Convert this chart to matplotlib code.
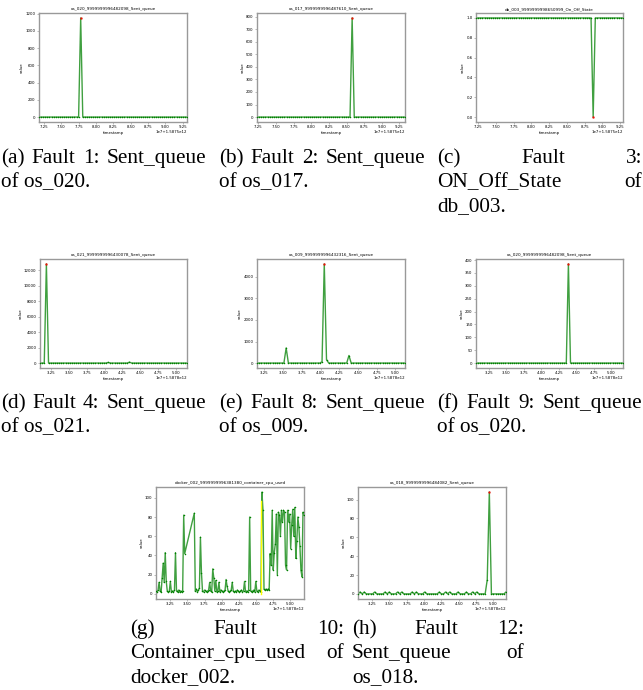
import numpy as np
import matplotlib
matplotlib.use("Agg")
import matplotlib.pyplot as plt
from matplotlib.ticker import MultipleLocator, FormatStrFormatter

# --- Data: values (x in units of 1e7 ms after the offset) ---
STEP = 0.03

a_start = 7.18
a_vals = [0, 0, 0, 0, 0, 0, 0, 0, 0, 0, 0, 0, 0, 0, 0, 0, 0, 0,
          0, 0, 1150, 0, 0, 0, 0, 0, 0, 0, 0, 0, 0, 0, 0, 0, 0, 0,
          0, 0, 0, 0, 0, 0, 0, 0, 0, 0, 0, 0, 0, 0, 0, 0, 0, 0,
          0, 0, 0, 0, 0, 0, 0, 0, 0, 0, 0, 0, 0, 0, 0, 0, 0, 0]

b_start = 7.23
b_vals = [0, 0, 0, 0, 0, 0, 0, 0, 0, 0, 0, 0, 0, 0, 0, 0, 0, 0,
          0, 0, 0, 0, 0, 0, 0, 0, 0, 0, 0, 0, 0, 0, 0, 0, 0, 0,
          0, 0, 0, 0, 0, 0, 0, 0, 0, 790, 0, 0, 0, 0, 0, 0, 0, 0,
          0, 0, 0, 0, 0, 0, 0, 0, 0, 0, 0, 0, 0, 0, 0, 0, 0]

c_start = 7.22
c_vals = [1, 1, 1, 1, 1, 1, 1, 1, 1, 1, 1, 1, 1, 1, 1, 1, 1, 1,
          1, 1, 1, 1, 1, 1, 1, 1, 1, 1, 1, 1, 1, 1, 1, 1, 1, 1,
          1, 1, 1, 1, 1, 1, 1, 1, 1, 1, 1, 1, 1, 1, 1, 1, 1, 1,
          1, 0, 1, 1, 1, 1, 1, 1, 1, 1, 1, 1, 1, 1, 1, 1]

d_start = 3.09
d_vals = [0, 0, 0, 12800, 0, 0, 0, 0, 0, 0, 0, 0, 0, 0, 0, 0, 0, 0,
          0, 0, 0, 0, 0, 0, 0, 0, 0, 0, 0, 0, 0, 0, 80, 0, 0, 0,
          0, 0, 0, 0, 0, 0, 120, 0, 0, 0, 0, 0, 0, 0, 0, 0, 0, 0,
          0, 0, 0, 0, 0, 0, 0, 0, 0, 0, 0, 0, 0, 0, 0, 0]

e_start = 3.15
e_vals = [0, 0, 0, 0, 0, 0, 0, 0, 0, 0, 0, 0, 0, 700, 0, 0, 0, 0,
          0, 0, 0, 0, 0, 0, 0, 0, 0, 0, 0, 60, 4600, 150, 0, 0, 0, 0,
          0, 0, 0, 0, 0, 350, 0, 0, 0, 0, 0, 0, 0, 0, 0, 0, 0, 0,
          0, 0, 0, 0, 0, 0, 0, 0, 0, 0, 0, 0, 0]

f_start = 3.07
f_vals = [0, 0, 0, 0, 0, 0, 0, 0, 0, 0, 0, 0, 0, 0, 0, 0, 0, 0,
          0, 0, 0, 0, 0, 0, 0, 0, 0, 0, 0, 0, 0, 0, 0, 0, 0, 0,
          0, 0, 0, 0, 0, 0, 0, 0, 385, 0, 0, 0, 0, 0, 0, 0, 0, 0,
          0, 0, 0, 0, 0, 0, 0, 0, 0, 0, 0, 0, 0, 0, 0, 0, 0]

# docker cpu: two sampled stretches with a gap between them
G_STEP = 0.015
g1_start = 3.04
g1_vals = [3, 2, 4, 12, 3, 2, 17, 32, 12, 43, 13, 3, 2, 3, 13, 2, 3, 2,
           4, 43, 3, 2, 4, 2, 3, 2, 3, 82, 42]
g2_start = 3.60
g2_vals = [84, 3, 5, 2, 4, 6, 59, 22, 3, 2, 4, 3, 2, 3, 4, 12, 3, 2,
           26, 17, 3, 14, 2, 3, 12, 2, 4, 3, 2, 3, 4, 15, 8, 3, 2, 3,
           4, 12, 3, 2, 3, 2, 4, 3, 2, 3, 4, 2, 3, 13, 2, 3, 2, 4,
           80, 3, 2, 3, 4, 2, 13, 3, 2, 4, 3, 2, 106, 87, 5, 4, 5, 4,
           5, 4, 42, 30, 87, 25, 43, 52, 83, 20, 85, 82, 60, 87, 75, 87,
           85, 30, 25, 87, 75, 83, 47, 72, 88, 60, 90, 37, 55, 80, 70, 50,
           25, 18, 85, 82]
g_fault_x = [4.578, 4.578]
g_fault_y = [0, 97]

h_start = 3.05
h_vals = [0, 2, 0, 2, 0, 0, 0, 0, 2, 0, 0, 0, 0, 2, 0, 2, 0, 0,
          0, 2, 0, 2, 0, 0, 0, 0, 2, 0, 2, 0, 0, 0, 2, 0, 0, 0,
          0, 0, 0, 2, 0, 0, 2, 0, 2, 0, 0, 0, 2, 0, 0, 0, 2, 0,
          0, 2, 0, 2, 0, 0, 0, 0, 15, 108, 0, 0, 0, 0, 0, 0, 0, 2]

titles = ["os_020_9999999996482098_Sent_queue",
          "os_017_9999999996487610_Sent_queue",
          "db_003_9999999998650999_On_Off_State",
          "os_021_9999999996430078_Sent_queue",
          "os_009_9999999996432316_Sent_queue",
          "os_020_9999999996482098_Sent_queue",
          "docker_002_9999999996381380_container_cpu_used",
          "os_018_9999999996484082_Sent_queue"]
offsets = ["1e7+1.5875e12"] * 3 + ["1e7+1.5878e12"] * 5

captions = [["(a) Fault 1: Sent_queue", "of os_020."],
            ["(b) Fault 2: Sent_queue", "of os_017."],
            ["(c) Fault 3:", "ON_Off_State of", "db_003."],
            ["(d) Fault 4: Sent_queue", "of os_021."],
            ["(e) Fault 8: Sent_queue", "of os_009."],
            ["(f) Fault 9: Sent_queue", "of os_020."],
            ["(g) Fault 10:", "Container_cpu_used of", "docker_002."],
            ["(h) Fault 12:", "Sent_queue of", "os_018."]]

W, H = 643, 690
fig = plt.figure(figsize=(W / 100, H / 100), dpi=100)


def px_axes(l, t, r, b):
    return fig.add_axes([l / W, 1 - b / H, (r - l) / W, (b - t) / H])


def series(start, step, vals):
    return start + step * np.arange(len(vals)), np.array(vals, dtype=float)


ga_x, ga_y = series(g1_start, G_STEP, g1_vals)
gb_x, gb_y = series(g2_start, G_STEP, g2_vals)

panels = [
    # box (l, t, r, b) px, x, y, ytick step, red marker
    ((39, 13, 187, 122),) + series(a_start, STEP, a_vals) + (200, "max"),
    ((257, 13, 405, 122),) + series(b_start, STEP, b_vals) + (100, "max"),
    ((476, 13, 623, 122),) + series(c_start, STEP, c_vals) + (0.2, "min"),
    ((40, 259, 187, 368),) + series(d_start, STEP, d_vals) + (2000, "max"),
    ((257, 259, 405, 368),) + series(e_start, STEP, e_vals) + (1000, "max"),
    ((476, 259, 623, 368),) + series(f_start, STEP, f_vals) + (50, "max"),
    ((156, 487, 304, 599), np.concatenate([ga_x, gb_x]),
     np.concatenate([ga_y, gb_y]), 20, None),
    ((358, 487, 506, 599),) + series(h_start, STEP, h_vals) + (20, "max"),
]

SMALL = 2.8
for i, (box, x, y, ystep, red) in enumerate(panels):
    ax = px_axes(*box)
    ax.plot(x, y, color="green", lw=1.0, alpha=0.75, zorder=2)
    ax.plot(x, y, "o", color="green", ms=1.1, mew=0, zorder=3)
    if i == 6:
        ax.plot(g_fault_x, g_fault_y, color="yellow", lw=1.0, zorder=4)
    if red is not None:
        k = int(np.argmax(y)) if red == "max" else int(np.argmin(y))
        ax.plot(x[k], y[k], "s", color="red", ms=1.4, mew=0, zorder=5)
    ax.set_xlim(x.min(), x.max())
    ax.margins(y=0.05)
    ax.xaxis.set_major_locator(MultipleLocator(0.25))
    ax.xaxis.set_major_formatter(FormatStrFormatter("%.2f"))
    ax.yaxis.set_major_locator(MultipleLocator(ystep))
    ax.set_title(titles[i], fontsize=SMALL + 0.2, pad=2)
    ax.set_xlabel("timestamp", fontsize=SMALL, labelpad=1)
    ax.set_ylabel("value", fontsize=SMALL, labelpad=1)
    ax.tick_params(labelsize=SMALL, length=1.5, width=0.4, pad=1,
                   color="#888888")
    for s in ax.spines.values():
        s.set_color("#999999")
        s.set_linewidth(1.0)
    ax.annotate(offsets[i], xy=(1, 0), xycoords="axes fraction",
                xytext=(0, -5.5), textcoords="offset points",
                ha="right", va="top", fontsize=SMALL)

# --- Captions: justified like the LaTeX subcaptions ---
CAP_FONT = dict(family="Liberation Serif", fontsize=15.3)
cap_cols = [(1, 206), (219, 425), (437, 642),
            (1, 206), (219, 425), (437, 642),
            (130, 344), (352, 524)]
cap_base = [163, 163, 163, 408, 408, 408, 634, 634]
LINE = 24

renderer = fig.canvas.get_renderer()
for lines, (x0, x1), yb in zip(captions, cap_cols, cap_base):
    for j, line in enumerate(lines):
        y = 1 - (yb + j * LINE) / H
        words = line.split()
        if j == len(lines) - 1 or len(words) == 1:
            fig.text(x0 / W, y, line, va="baseline", ha="left", **CAP_FONT)
            continue
        objs = [fig.text(0, y, w, va="baseline", ha="left", **CAP_FONT)
                for w in words]
        widths = [t.get_window_extent(renderer).width for t in objs]
        gap = max((x1 - x0 - sum(widths)) / (len(words) - 1), 3)
        xpos = x0
        for t, wd in zip(objs, widths):
            t.set_x(xpos / W)
            xpos += wd + gap

fig.savefig("out.png", dpi=100)
